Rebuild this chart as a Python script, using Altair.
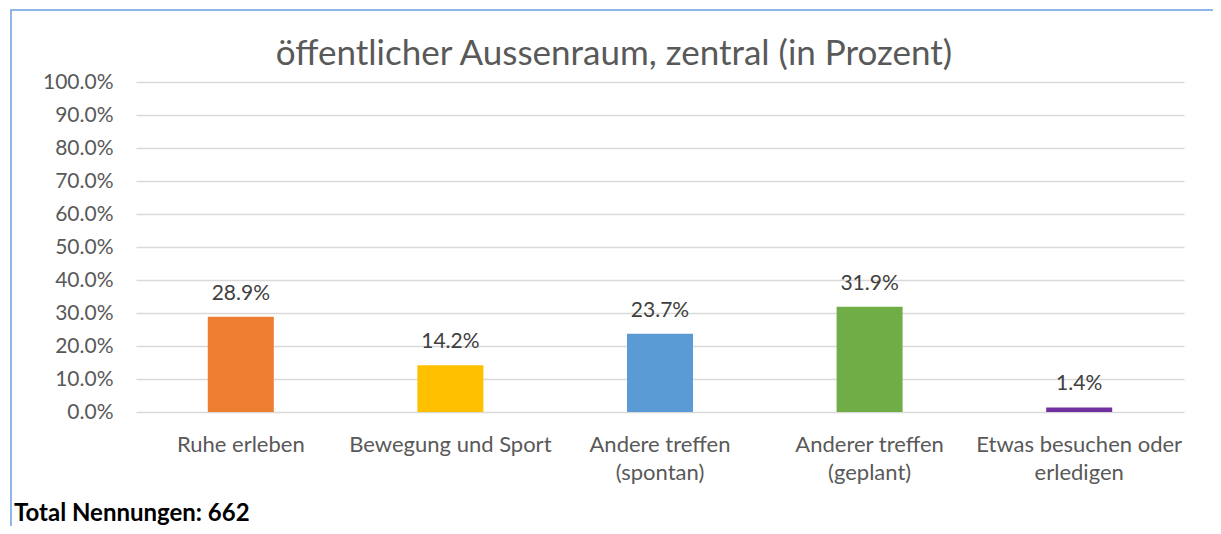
import altair as alt
import pandas as pd

categories = ["Ruhe erleben", "Bewegung und Sport", "Andere treffen\n(spontan)",
              "Anderer treffen\n(geplant)", "Etwas besuchen oder\nerledigen"]
values = [0.289, 0.142, 0.237, 0.319, 0.014]
colors = ["#ED7D31", "#FFC000", "#5B9BD5", "#70AD47", "#7030A0"]
y_ticks = [0.0, 0.1, 0.2, 0.3, 0.4, 0.5, 0.6, 0.7, 0.8, 0.9, 1.0]
title_text = "öffentlicher Aussenraum, zentral (in Prozent)"
footer_text = "Total Nennungen: 662"

FONT = "Lato"
df = pd.DataFrame({"cat": categories, "val": values, "color": colors})

x = alt.X("cat:N", sort=categories, title=None,
          scale=alt.Scale(paddingInner=0, paddingOuter=0),
          axis=alt.Axis(labelAngle=0, labelExpr="split(datum.label, '\\n')",
                        labelPadding=22, labelLimit=300, labelLineHeight=28,
                        labelOverlap=False,
                        domain=False, ticks=False, labelColor="#595959",
                        labelFontSize=22, labelFont=FONT))
y = alt.Y("val:Q", title=None,
          scale=alt.Scale(domain=[0, 1], nice=False),
          axis=alt.Axis(values=y_ticks, format=".1%",
                        domain=False, ticks=False, labelPadding=23,
                        labelOverlap=False,
                        labelColor="#595959", labelFontSize=21, labelFont=FONT,
                        gridColor="#D9D9D9", gridWidth=1.3))

bars = alt.Chart(df).mark_bar(size=66).encode(
    x=x, y=y, color=alt.Color("color:N", scale=None))

labels = alt.Chart(df).mark_text(dy=-17, baseline="alphabetic", fontSize=21,
                                 font=FONT, color="#404040").encode(
    x=x, y=y,
    text=alt.Text("val:Q", format=".1%"))

one = pd.DataFrame({"a": [0]})
frame = alt.Chart(one).mark_rect(fill=None, stroke="#6A9FDE", strokeWidth=1.5).encode(
    x=alt.value(-125), x2=alt.value(1082), y=alt.value(-72), y2=alt.value(480))

title = alt.Chart(one).mark_text(align="center", baseline="alphabetic", fontSize=35,
                                 font=FONT, color="#595959").encode(
    x=alt.value(478), y=alt.value(-17), text=alt.value(title_text))

footer = alt.Chart(one).mark_text(align="left", baseline="alphabetic", fontSize=24,
                                  fontWeight="bold", font=FONT, color="#000000").encode(
    x=alt.value(-122), y=alt.value(439), text=alt.value(footer_text))

chart = alt.layer(frame, bars, labels, title, footer).properties(
    width=1048, height=330,
    autosize=alt.AutoSizeParams(type="none"),
    padding={"left": 128, "top": 74, "right": 29, "bottom": 114},
).configure_view(stroke=None)

chart.save("out.html", embed_options={"renderer": "svg", "actions": False})
